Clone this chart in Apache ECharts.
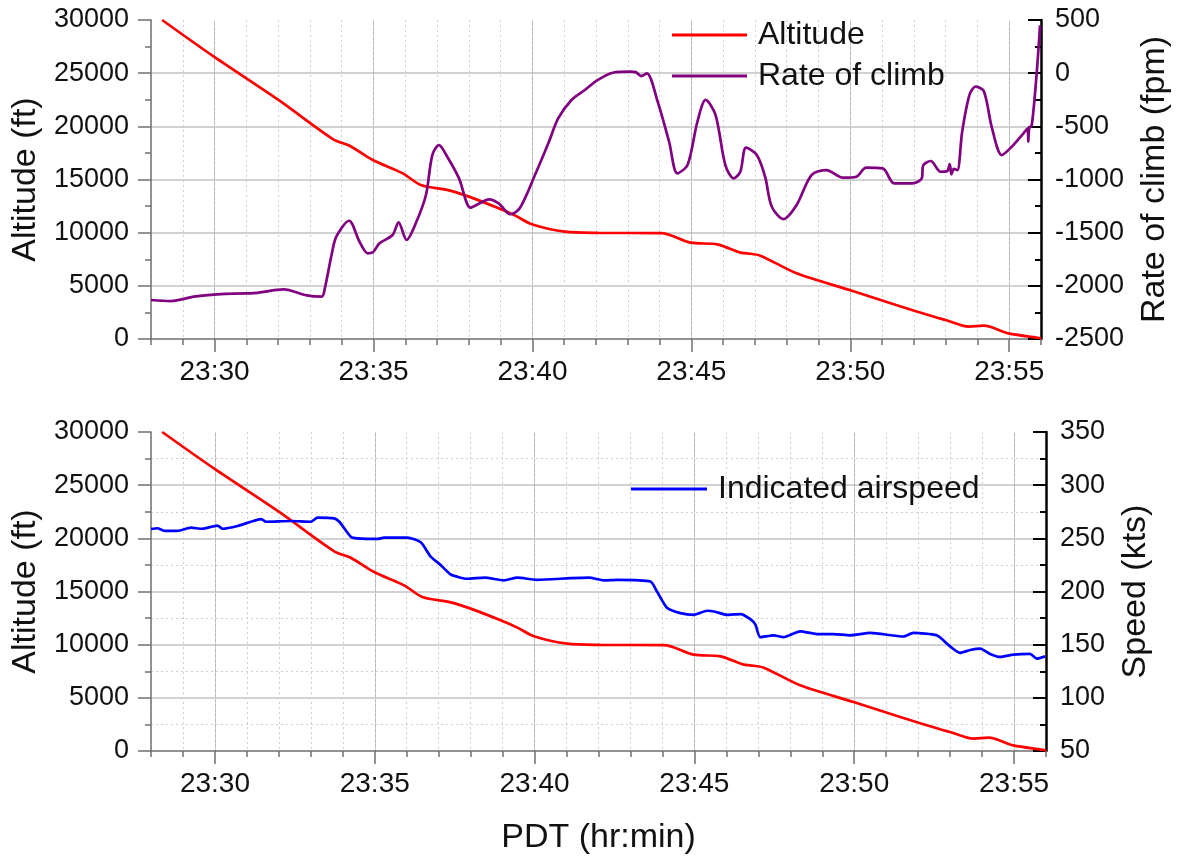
<!DOCTYPE html>
<html>
<head>
<meta charset="utf-8">
<script src="https://cdn.jsdelivr.net/npm/echarts@6/dist/echarts.min.js"></script>
<style>
html,body{margin:0;padding:0;background:#fff;}
#chart{width:1180px;height:856px;}
</style>
</head>
<body>
<div id="chart"></div>
<script>
// Time is minutes after 23:00 PDT
const xMin = 28, xMax = 56;
const majorTicks = [30, 35, 40, 45, 50, 55];

const altTime = [28.35, 29.98, 32.01, 33.73, 34.25, 34.98, 35.92, 36.49, 37.375, 38.0, 38.94, 39.46, 39.98, 41.02, 42.06, 44.04, 44.98, 45.81, 46.54, 46.75, 47.17, 48.31, 49.98, 51.44, 52.69, 53.0, 53.73, 54.2, 54.98, 55.9, 56.0];
const altValues = [30000, 26550, 22480, 18780, 18180, 16830, 15580, 14480, 13980, 13390, 12290, 11600, 10790, 10090, 9980, 9960, 9060, 8900, 8120, 8060, 7840, 6180, 4610, 3200, 2040, 1790, 1160, 1250, 530, 120, 50];

const rocTime = [28.0, 28.63, 29.35, 30.08, 31.02, 31.13, 32.17, 32.9, 33.37, 33.47, 33.68, 33.83, 34.23, 34.56, 34.82, 34.98, 35.19, 35.6, 35.79, 36.04, 36.33, 36.65, 36.85, 37.06, 37.32, 37.69, 38.05, 38.3, 38.63, 38.94, 39.3, 39.6, 40.08, 40.5, 40.81, 41.23, 41.65, 42.06, 42.53, 43.1, 43.25, 43.42, 43.6, 43.94, 44.3, 44.56, 44.88, 45.19, 45.45, 45.76, 46.07, 46.33, 46.54, 46.72, 47.06, 47.32, 47.53, 47.9, 48.31, 48.78, 49.25, 49.77, 50.19, 50.5, 51.02, 51.38, 51.96, 52.25, 52.29, 52.53, 52.84, 53.05, 53.13, 53.18, 53.26, 53.37, 53.52, 53.75, 53.94, 54.2, 54.46, 54.77, 55.08, 55.45, 55.58, 55.6, 55.63, 55.71, 55.86, 55.97];
const rocValues = [-2133, -2143, -2102, -2080, -2070, -2070, -2033, -2090, -2102, -2023, -1710, -1538, -1388, -1585, -1694, -1685, -1600, -1522, -1403, -1569, -1412, -1146, -770, -676, -786, -989, -1265, -1230, -1186, -1224, -1327, -1271, -958, -660, -425, -252, -158, -64, 4, 14, 10, -27, -2, -268, -645, -942, -864, -457, -252, -393, -864, -989, -927, -700, -770, -974, -1256, -1372, -1240, -958, -911, -983, -974, -889, -895, -1036, -1036, -989, -870, -826, -927, -920, -854, -951, -901, -911, -550, -205, -127, -168, -519, -770, -692, -566, -520, -645, -520, -488, -17, 450];

const iasTime = [28.0, 28.2, 28.42, 28.83, 29.25, 29.6, 30.08, 30.24, 30.71, 31.13, 31.44, 31.6, 32.38, 33.0, 33.21, 33.73, 33.89, 34.25, 34.46, 35.08, 35.29, 36.02, 36.44, 36.75, 37.06, 37.375, 37.9, 38.44, 39.04, 39.46, 40.08, 41.13, 41.7, 42.17, 42.58, 43.625, 43.83, 44.15, 44.56, 44.98, 45.4, 45.65, 46.02, 46.44, 46.75, 46.91, 47.06, 47.48, 47.79, 48.31, 48.83, 49.35, 49.875, 50.5, 51.54, 51.85, 52.58, 53.0, 53.31, 53.63, 53.94, 54.25, 54.56, 54.98, 55.5, 55.71, 55.97];
const iasValues = [258.8, 259.5, 257, 257, 260, 259, 262, 259, 261.6, 265.6, 268, 265.6, 266.3, 265.6, 269.4, 268.8, 265.6, 251.6, 250, 249.4, 250.6, 250.6, 246.3, 232.8, 225, 216, 212, 213, 210.5, 213, 211, 212.5, 213, 210.5, 211, 209.4, 200, 184.4, 179.7, 178.1, 181.9, 181, 178, 178.8, 174, 168.8, 157, 158.8, 157, 162.5, 160, 160, 158.8, 161, 157.7, 161, 158.8, 148.4, 142.3, 145, 146.3, 141.3, 138.5, 140.6, 141.3, 136.9, 139];

const zip = (t, v) => t.map((x, i) => [x, v[i]]);

const FONT = "'Liberation Sans', Arial, sans-serif";
const grayAxis = '#707070';
const gridMajor = '#d2d2d2';
const gridVert = '#b8b8b8';
const plain = v => String(v);

function xMain(grid, withName) {
  return {
    type: 'value', gridIndex: grid, min: xMin, max: xMax, position: 'bottom',
    axisLine: { show: true, onZero: false, lineStyle: { color: grayAxis, width: 1.5 } },
    axisTick: { show: true, customValues: majorTicks, length: 13, lineStyle: { color: grayAxis, width: 1.5 } },
    axisLabel: { customValues: majorTicks, margin: 19, fontSize: 28, color: '#111', fontFamily: FONT,
      formatter: v => '23:' + String(v).padStart(2, '0') },
    splitLine: { show: true, lineStyle: { color: gridVert, width: 1 } },
    name: withName ? 'PDT (hr:min)' : '', nameLocation: 'middle', nameGap: 70,
    nameTextStyle: { fontSize: 34, color: '#111', fontFamily: FONT }
  };
}
function xMinor(grid) {
  return {
    type: 'value', gridIndex: grid, min: xMin, max: xMax, interval: 1, position: 'bottom',
    axisLine: { show: false, onZero: false },
    axisTick: { show: true, length: 6, lineStyle: { color: grayAxis, width: 1.5 } },
    axisLabel: { show: false },
    splitLine: { show: true, lineStyle: { color: '#cfcfcf', width: 1, type: [2, 3] } }
  };
}
function yLeft(grid, minorGrid) {
  return {
    type: 'value', gridIndex: grid, min: 0, max: 30000, interval: 5000, position: 'left',
    axisLine: { show: true, onZero: false, lineStyle: { color: grayAxis, width: 1.5 } },
    axisTick: { show: true, length: 13, lineStyle: { color: grayAxis, width: 1.5 } },
    minorTick: { show: true, splitNumber: 2, length: 6, lineStyle: { color: grayAxis, width: 1.5 } },
    axisLabel: { margin: 22, fontSize: 27, color: '#111', fontFamily: FONT, formatter: plain },
    splitLine: { show: true, showMinLine: false, showMaxLine: false, lineStyle: { color: gridMajor, width: 2 } },
    minorSplitLine: { show: minorGrid, lineStyle: { color: '#cfcfcf', width: 1, type: [2, 3] } },
    name: 'Altitude (ft)', nameLocation: 'middle', nameGap: 104,
    nameTextStyle: { fontSize: 34, color: '#111', fontFamily: FONT }
  };
}
function yRight(grid, min, max, interval, name, gap) {
  return {
    type: 'value', gridIndex: grid, min: min, max: max, interval: interval, position: 'right',
    axisLine: { show: true, onZero: false, lineStyle: { color: '#000', width: 2.5 } },
    axisTick: { show: true, inside: true, length: 13, lineStyle: { color: '#000', width: 2 } },
    minorTick: { show: true, splitNumber: 2, length: 6, lineStyle: { color: '#000', width: 2 } },
    axisLabel: { margin: 14, fontSize: 27, color: '#111', fontFamily: FONT, formatter: plain },
    splitLine: { show: false },
    name: name, nameLocation: 'middle', nameGap: gap,
    nameTextStyle: { fontSize: 34, color: '#111', fontFamily: FONT }
  };
}

const chart = echarts.init(document.getElementById('chart'), null, { renderer: 'canvas' });
chart.setOption({
  animation: false,
  backgroundColor: '#fff',
  textStyle: { fontFamily: FONT },
  grid: [
    { left: 151, right: 134, top: 20, height: 319 },
    { left: 151, right: 134, top: 432, height: 320 }
  ],
  legend: [
    { data: ['Altitude', 'Rate of climb'], orient: 'vertical', left: 672, top: 19, padding: 0,
      itemGap: 9, itemWidth: 75, itemHeight: 3, icon: 'rect',
      textStyle: { fontSize: 32, lineHeight: 32, color: '#111', fontFamily: FONT, padding: [0, 0, 0, 6] } },
    { data: ['Indicated airspeed'], orient: 'vertical', left: 631, top: 473, padding: 0,
      itemWidth: 76, itemHeight: 3, icon: 'rect',
      textStyle: { fontSize: 32, lineHeight: 32, color: '#111', fontFamily: FONT, padding: [0, 0, 0, 6] } }
  ],
  xAxis: [xMain(0, false), xMinor(0), xMain(1, true), xMinor(1)],
  yAxis: [
    yLeft(0, false),
    yRight(0, -2500, 500, 500, 'Rate of climb (fpm)', 97),
    yLeft(1, true),
    yRight(1, 50, 350, 50, 'Speed (kts)', 73)
  ],
  series: [
    { name: 'Altitude', type: 'line', xAxisIndex: 0, yAxisIndex: 0, data: zip(altTime, altValues),
      showSymbol: false, smooth: 0.3, lineStyle: { color: '#ff0000', width: 2.7 }, itemStyle: { color: '#ff0000' }, z: 3 },
    { name: 'Rate of climb', type: 'line', xAxisIndex: 0, yAxisIndex: 1, data: zip(rocTime, rocValues),
      showSymbol: false, smooth: 0.3, lineStyle: { color: '#800080', width: 2.7 }, itemStyle: { color: '#800080' }, z: 4 },
    { name: 'Altitude', type: 'line', xAxisIndex: 2, yAxisIndex: 2, data: zip(altTime, altValues),
      showSymbol: false, smooth: 0.3, lineStyle: { color: '#ff0000', width: 2.7 }, itemStyle: { color: '#ff0000' }, z: 3 },
    { name: 'Indicated airspeed', type: 'line', xAxisIndex: 2, yAxisIndex: 3, data: zip(iasTime, iasValues),
      showSymbol: false, smooth: 0.2, lineStyle: { color: '#0000ff', width: 2.7 }, itemStyle: { color: '#0000ff' }, z: 4 }
  ]
});
</script>
</body>
</html>
